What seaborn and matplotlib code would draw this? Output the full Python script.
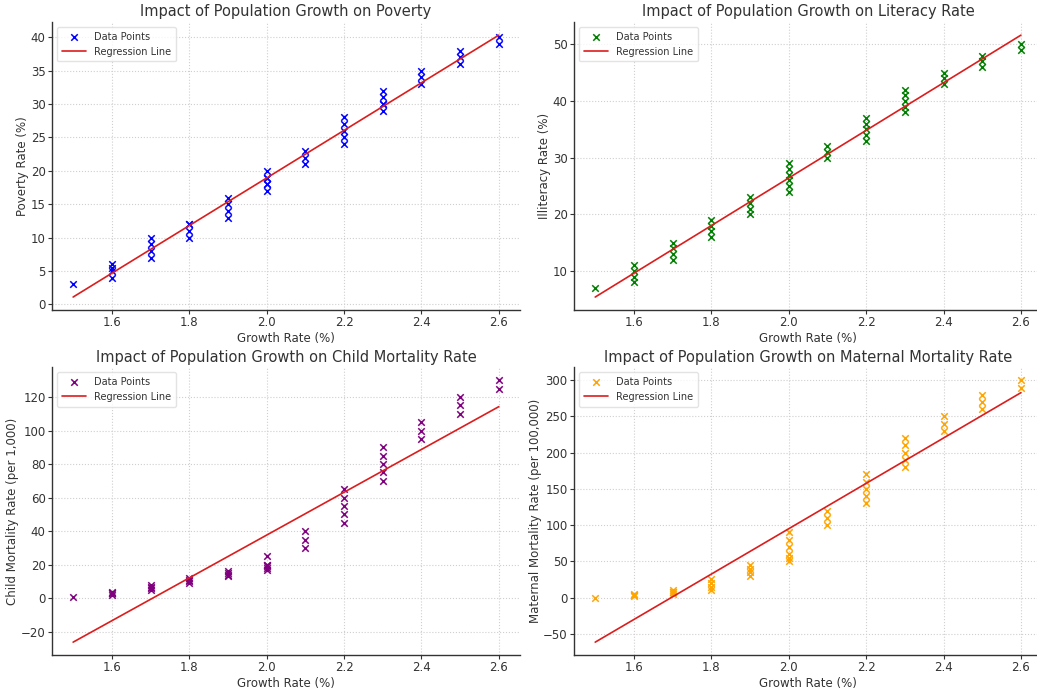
import matplotlib
matplotlib.use("Agg")
import matplotlib.pyplot as plt
import numpy as np
import pandas as pd
import seaborn as sns

# growth rate (%) shared by all four panels
growth_rate = ([1.5] + [1.6] * 4 + [1.7] * 4 + [1.8] * 4 + [1.9] * 4 + [2.0] * 6
               + [2.1] * 3 + [2.2] * 5 + [2.3] * 5 + [2.4] * 3 + [2.5] * 3 + [2.6] * 2)

poverty_rate = [3, 4, 5, 5.5, 6, 7, 8, 9, 10, 10, 11, 12, 12, 13, 14, 15, 16,
                17, 18, 18, 19, 19, 20, 21, 22, 23, 24, 25, 26, 27, 28,
                29, 30, 30, 31, 32, 33, 34, 35, 36, 37, 38, 39, 40]
illiteracy_rate = [7, 8, 9, 10, 11, 12, 13, 14, 15, 16, 17, 18, 19, 20, 21, 22, 23,
                   24, 25, 26, 27, 28, 29, 30, 31, 32, 33, 34, 35, 36, 37,
                   38, 39, 40, 41, 42, 43, 44, 45, 46, 47, 48, 49, 50]
child_mortality = [1, 2, 3, 3, 4, 5, 6, 7, 8, 9, 10, 11, 12, 13, 14, 15, 16,
                   17, 18, 19, 20, 20, 25, 30, 35, 40, 45, 50, 55, 60, 65,
                   70, 75, 80, 85, 90, 95, 100, 105, 110, 115, 120, 125, 130]
maternal_mortality = [0, 2, 3, 4, 5, 5, 7, 8, 10, 10, 15, 20, 25, 30, 35, 40, 45,
                      50, 55, 60, 70, 80, 90, 100, 110, 120, 130, 140, 150, 160, 170,
                      180, 190, 200, 210, 220, 230, 240, 250, 260, 270, 280, 290, 300]

panels = [
    ("Poverty", poverty_rate, "Poverty Rate (%)", "blue"),
    ("Literacy Rate", illiteracy_rate, "Illiteracy Rate (%)", "green"),
    ("Child Mortality Rate", child_mortality, "Child Mortality Rate (per 1,000)", "purple"),
    ("Maternal Mortality Rate", maternal_mortality, "Maternal Mortality Rate (per 100,000)", "orange"),
]

sns.set_style("whitegrid", {
    "grid.linestyle": ":",
    "grid.color": "#cfcfcf",
    "axes.edgecolor": "#333333",
    "axes.spines.top": False,
    "axes.spines.right": False,
    "xtick.bottom": True,
    "ytick.left": True,
})
plt.rcParams["text.color"] = "#333333"
plt.rcParams["axes.labelcolor"] = "#333333"
plt.rcParams["xtick.color"] = "#333333"
plt.rcParams["ytick.color"] = "#333333"

fig, axes = plt.subplots(2, 2, figsize=(10.37, 6.89), dpi=100)
fig.subplots_adjust(left=0.050, right=1.005, bottom=0.049, top=0.968, wspace=0.115, hspace=0.198)

for ax, (name, values, ylabel, color) in zip(axes.flat, panels):
    df = pd.DataFrame({"growth": growth_rate, "value": values})
    sns.scatterplot(data=df, x="growth", y="value", marker="x", color=color, s=22,
                    linewidth=1.1, label="Data Points", ax=ax)
    sns.regplot(data=df, x="growth", y="value", scatter=False, ci=None, color="#dd1c1c",
                line_kws={"linewidth": 1.2}, label="Regression Line", ax=ax)
    ax.set_title("Impact of Population Growth on " + name, fontsize=10.5, pad=4)
    ax.set_xlabel("Growth Rate (%)", fontsize=8.5, labelpad=2)
    ax.set_ylabel(ylabel, fontsize=8.5, labelpad=1)
    ax.tick_params(labelsize=8.5, length=3, width=0.8, pad=1.5)
    for s in ["left", "bottom"]:
        ax.spines[s].set_linewidth(1.0)
    ax.legend(loc="upper left", fontsize=7, frameon=True, edgecolor="#dddddd",
              borderpad=0.5, handlelength=2.5)

plt.savefig("out.png", dpi=100)
